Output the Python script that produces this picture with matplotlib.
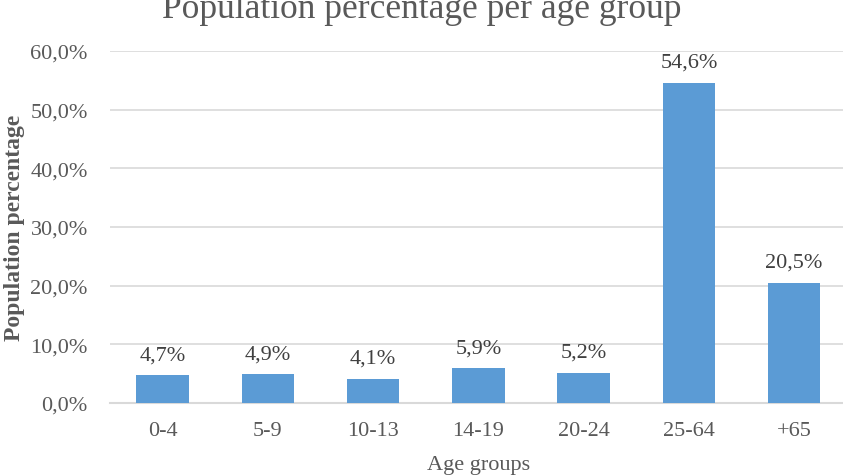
import matplotlib
matplotlib.use("Agg")
import matplotlib.pyplot as plt
from matplotlib.ticker import FuncFormatter

# data
age_groups = ["0-4", "5-9", "10-13", "14-19", "20-24", "25-64", "+65"]
percentages = [4.7, 4.9, 4.1, 5.9, 5.2, 54.6, 20.5]
y_ticks = [0, 10, 20, 30, 40, 50, 60]

BAR_COLOR = "#5B9BD5"
TEXT_COLOR = "#595959"
LABEL_COLOR = "#404040"
GRID_COLOR = "#D9D9D9"

plt.rcParams["font.family"] = ["Liberation Serif", "DejaVu Serif"]

fig = plt.figure(figsize=(8.43, 4.77), dpi=100)
ax = fig.add_axes([0.1305, 0.153, 0.874, 0.738])

x = range(len(age_groups))
bars = ax.bar(x, percentages, width=0.5, color=BAR_COLOR, zorder=3)

# data labels above each bar, decimal comma style
for rect, val in zip(bars, percentages):
    ax.annotate(f"{val:.1f}%".replace(".", ","),
                (rect.get_x() + rect.get_width() / 2, rect.get_height()),
                xytext=(0, 8), textcoords="offset points",
                ha="center", va="bottom", fontsize=16, color=LABEL_COLOR)

ax.set_xlim(-0.5, len(age_groups) - 0.5)
ax.set_ylim(0, 60)
ax.set_yticks(y_ticks)
ax.yaxis.set_major_formatter(FuncFormatter(lambda v, p: f"{v:.1f}%".replace(".", ",")))
ax.set_xticks(list(x))
ax.set_xticklabels(age_groups)

ax.tick_params(axis="both", length=0, labelsize=16, colors=TEXT_COLOR)
ax.tick_params(axis="y", pad=16)
ax.tick_params(axis="x", pad=13)

ax.grid(axis="y", color=GRID_COLOR, linewidth=1.2, zorder=0)
for side in ["top", "right", "left"]:
    ax.spines[side].set_visible(False)
ax.spines["bottom"].set_color(GRID_COLOR)
ax.spines["bottom"].set_linewidth(1.5)

ax.set_xlabel("Age groups", fontsize=16, color=TEXT_COLOR, labelpad=11)
ax.set_ylabel("Population percentage", fontsize=17, color=TEXT_COLOR,
              fontweight="bold", labelpad=4)

fig.text(0.5, 0.962, "Population percentage per age group",
         ha="center", va="baseline", fontsize=25.5, color=TEXT_COLOR)

fig.savefig("out.png", dpi=100)
